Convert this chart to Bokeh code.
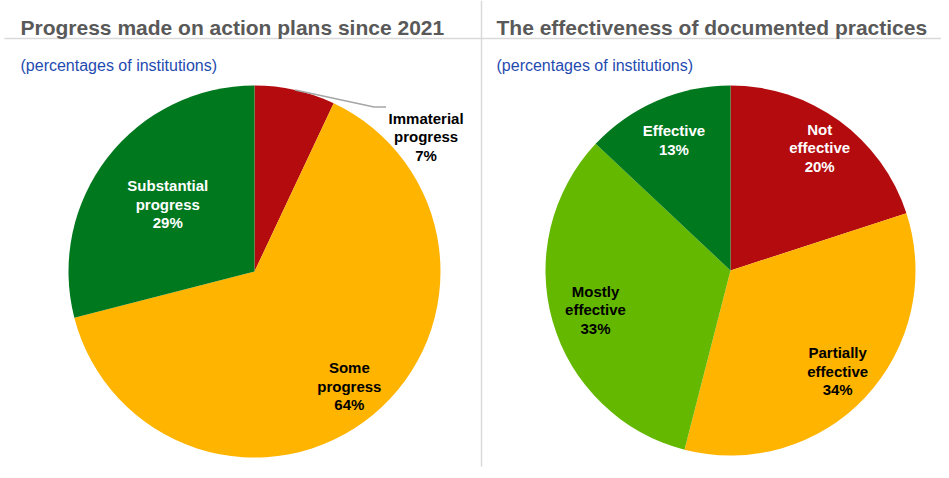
import math
from bokeh.plotting import figure
from bokeh.models import Range1d
from bokeh.embed import file_html
from bokeh.resources import INLINE
from bokeh.core.properties import value

# ---------------- data ----------------
left_title = "Progress made on action plans since 2021"
right_title = "The effectiveness of documented practices"
subtitle = "(percentages of institutions)"

left_labels = ["Immaterial\nprogress", "Some\nprogress", "Substantial\nprogress"]
left_values = [7, 64, 29]
left_colors = ["#B30B0E", "#FFB400", "#00781E"]
left_text_colors = ["#000000", "#000000", "#FFFFFF"]

right_labels = ["Not\neffective", "Partially\neffective", "Mostly\neffective", "Effective"]
right_values = [20, 34, 33, 13]
right_colors = ["#B30B0E", "#FFB400", "#64B800", "#00781E"]
right_text_colors = ["#FFFFFF", "#000000", "#000000", "#FFFFFF"]

# ---------------- layout ----------------
W, H = 941, 470
FONT = value("Liberation Sans")


def Y(ry):
    return H - ry


p = figure(width=W, height=H, output_backend="svg", toolbar_location=None,
           x_range=Range1d(0, W), y_range=Range1d(0, H),
           min_border=0, outline_line_color=None)
p.axis.visible = False
p.grid.visible = False
p.background_fill_color = "white"
p.border_fill_color = "white"

# separators
p.line([4, W], [Y(38), Y(38)], line_color="#D9D9D9", line_width=1.5)
p.line([481, 481], [Y(0), Y(466)], line_color="#D9D9D9", line_width=1.5)

# titles
for tx, t in [(20, left_title), (496, right_title)]:
    p.text(x=[tx], y=[Y(27)], text=[t], text_font=FONT, text_font_style="bold",
           text_font_size="21px", text_color="#595959",
           text_align="left", text_baseline="alphabetic")
    p.text(x=[tx], y=[Y(65)], text=[subtitle], text_font=FONT,
           text_font_size="16px", text_color="#1F4BB0",
           text_align="left", text_baseline="alphabetic")


def pie(cx, cy, R, labels, values, colors, tcolors, rfac, outside=None):
    total = float(sum(values))
    cum = 0.0
    for i, (lab, v, c, tc) in enumerate(zip(labels, values, colors, tcolors)):
        a0 = math.pi / 2 - 2 * math.pi * cum / total
        cum += v
        a1 = math.pi / 2 - 2 * math.pi * cum / total
        p.wedge(x=[cx], y=[cy], radius=R, start_angle=a0, end_angle=a1,
                direction="clock", fill_color=c, line_color=None)
        mid = (a0 + a1) / 2
        txt = f"{lab}\n{v}%"
        if rfac[i] is None:
            ex, ey = cx + R * math.cos(mid), cy + R * math.sin(mid)
            (elx, ely), (hx, hy), (lx, ly) = outside
            p.line([ex, ex + elx, ex + hx], [ey, ey + ely, ey + hy],
                   line_color="#A6A6A6", line_width=1.5)
            lxp, lyp = ex + lx, ey + ly
        else:
            lxp = cx + rfac[i] * R * math.cos(mid)
            lyp = cy + rfac[i] * R * math.sin(mid)
        p.text(x=[lxp], y=[lyp], text=[txt], text_font=FONT, text_font_style="bold",
               text_font_size="15px", text_color=tc, text_align="center",
               text_baseline="middle", text_line_height=1.1)


pie(254, Y(271), 186, left_labels, left_values, left_colors, left_text_colors,
    [None, 0.80, 0.59], outside=((79, -17), (91, -17), (131, -47)))
pie(730, Y(270), 185, right_labels, right_values, right_colors, right_text_colors,
    [0.82, 0.795, 0.76, 0.77])

open("out.html", "w").write(file_html(p, INLINE))
